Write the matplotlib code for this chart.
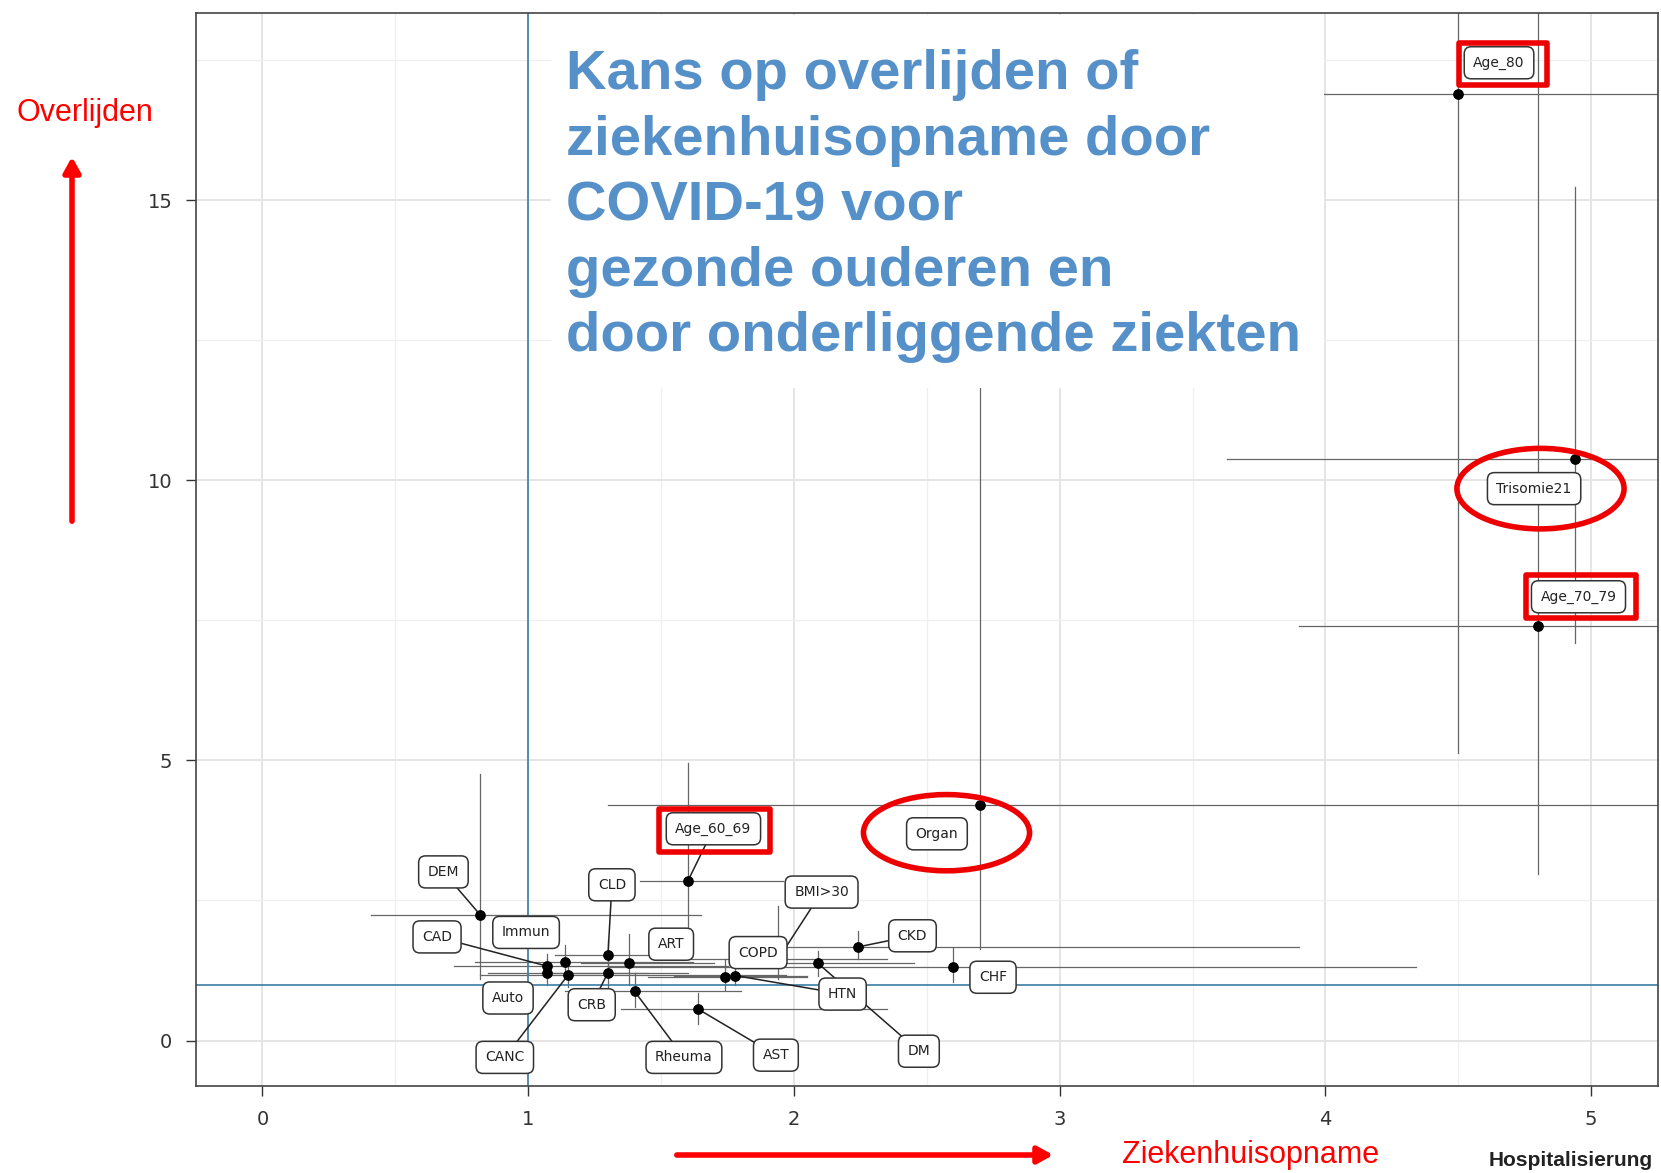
import matplotlib
matplotlib.use("Agg")
import matplotlib.pyplot as plt
from matplotlib.patches import Rectangle, Ellipse
from matplotlib.ticker import MultipleLocator

# risicofactoren: ziekenhuisopname (x) en overlijden (y), met betrouwbaarheidsintervallen
factoren = ["Age_80", "Trisomie21", "Age_70_79", "Organ", "Age_60_69", "DEM", "CAD",
            "Immun", "Auto", "CANC", "CLD", "CRB", "ART", "Rheuma", "AST", "COPD",
            "HTN", "BMI>30", "DM", "CKD", "CHF"]
hosp = [4.50, 4.94, 4.80, 2.70, 1.60, 0.82, 1.07, 1.14, 1.07, 1.15, 1.30, 1.30, 1.38,
        1.40, 1.64, 1.74, 1.78, 1.94, 2.09, 2.24, 2.60]
hosp_lo = [3.20, 3.63, 3.90, 1.30, 1.42, 0.41, 0.72, 0.80, 0.85, 0.82, 1.10, 1.05, 1.20,
           1.14, 1.35, 1.45, 1.55, 1.60, 1.80, 1.90, 1.30]
hosp_hi = [6.50, 6.50, 6.50, 6.50, 1.96, 1.65, 1.75, 1.62, 1.45, 1.97, 1.55, 1.60, 1.70,
           1.80, 2.35, 2.05, 2.05, 2.35, 2.45, 3.90, 4.34]
dood = [16.9, 10.38, 7.39, 4.20, 2.84, 2.24, 1.33, 1.40, 1.20, 1.17, 1.52, 1.21, 1.38,
        0.88, 0.56, 1.14, 1.16, 1.45, 1.38, 1.67, 1.31]
dood_lo = [5.14, 7.09, 2.97, 1.64, 2.02, 1.10, 1.10, 1.20, 1.00, 0.95, 1.25, 0.90, 1.00,
           0.60, 0.30, 0.90, 1.00, 1.10, 1.15, 1.45, 1.05]
dood_hi = [20.0, 15.24, 20.0, 13.0, 4.95, 4.76, 1.55, 1.70, 1.45, 1.40, 1.80, 1.55, 1.90,
           1.20, 0.85, 1.45, 1.75, 2.40, 1.60, 1.95, 1.65]

x_ticks = [0, 1, 2, 3, 4, 5]
y_ticks = [0, 5, 10, 15]

titel = ("Kans op overlijden of\nziekenhuisopname door\nCOVID-19 voor\n"
         "gezonde ouderen en\ndoor onderliggende ziekten")

# positie van de labels (zoals ggrepel ze plaatste)
label_pos = {
    "Age_80": (4.653, 17.45), "Trisomie21": (4.785, 9.85), "Age_70_79": (4.952, 7.92),
    "Organ": (2.538, 3.69), "Age_60_69": (1.697, 3.78), "DEM": (0.681, 3.01),
    "CAD": (0.657, 1.85), "Immun": (0.992, 1.93), "CLD": (1.315, 2.78),
    "BMI>30": (2.104, 2.65), "ART": (1.538, 1.72), "COPD": (1.865, 1.57),
    "CKD": (2.446, 1.87), "CHF": (2.749, 1.13), "HTN": (2.183, 0.83),
    "Auto": (0.924, 0.76), "CRB": (1.239, 0.64), "CANC": (0.912, -0.30),
    "Rheuma": (1.586, -0.30), "AST": (1.932, -0.26), "DM": (2.470, -0.19),
}
met_lijn = ["DEM", "CAD", "CLD", "Age_60_69", "BMI>30", "CKD", "HTN", "DM",
            "CANC", "Rheuma", "AST", "CRB"]

fig = plt.figure(figsize=(16.61, 11.73), dpi=100)
ax = fig.add_axes([0.118, 0.0742, 0.880, 0.9148])
ax.set_xlim(-0.25, 5.25)
ax.set_ylim(-0.81, 18.34)

ax.xaxis.set_major_locator(MultipleLocator(1))
ax.xaxis.set_minor_locator(MultipleLocator(0.5))
ax.yaxis.set_major_locator(MultipleLocator(5))
ax.yaxis.set_minor_locator(MultipleLocator(2.5))
ax.grid(which="major", color="#e3e3e3", lw=1.3, zorder=0)
ax.grid(which="minor", color="#efefef", lw=0.9, zorder=0)
ax.set_axisbelow(True)
ax.set_xticks(x_ticks)
ax.set_yticks(y_ticks)
ax.tick_params(which="minor", length=0)
ax.tick_params(which="major", length=7, width=1, color="#333333", labelsize=14, pad=10)
for lab in ax.get_xticklabels() + ax.get_yticklabels():
    lab.set_color("#333333")
for s in ax.spines.values():
    s.set_color("#444444")
    s.set_linewidth(1.2)

ax.axhline(1, color="#3b7ca3", lw=1.2, zorder=2.5)
ax.axvline(1, color="#3b7ca3", lw=1.2, zorder=2.5)

for i in range(len(factoren)):
    ax.plot([hosp_lo[i], hosp_hi[i]], [dood[i], dood[i]], color="#666666", lw=0.9, zorder=2)
    ax.plot([hosp[i], hosp[i]], [dood_lo[i], dood_hi[i]], color="#666666", lw=0.9, zorder=2)
ax.scatter(hosp, dood, s=45, color="black", zorder=3)

for i, naam in enumerate(factoren):
    lx, ly = label_pos[naam]
    if naam in met_lijn:
        ax.plot([hosp[i], lx], [dood[i], ly], color="#222222", lw=1.1, zorder=2.8)
    ax.text(lx, ly, naam, ha="center", va="center", fontsize=10, color="#222222",
            zorder=5,
            bbox=dict(boxstyle="round,pad=0.65,rounding_size=0.5", fc="white",
                      ec="#333333", lw=1.1))

# rode markeringen
for (x0, x1, y0, y1) in [(4.502, 4.833, 17.05, 17.81), (4.753, 5.167, 7.54, 8.30),
                         (1.494, 1.908, 3.36, 4.14)]:
    ax.add_patch(Rectangle((x0, y0), x1 - x0, y1 - y0, fill=False, ec="#ee0000", lw=4,
                           joinstyle="round", zorder=6))
for (cx, cy, w, h) in [(4.809, 9.85, 0.629, 1.437), (2.574, 3.71, 0.625, 1.36)]:
    ax.add_patch(Ellipse((cx, cy), w, h, fill=False, ec="#ee0000", lw=4, zorder=6))

# titel in wit vlak
ax.add_patch(Rectangle((0.243, 0.650), 0.5285, 0.348, transform=ax.transAxes,
                       fc="white", ec="none", zorder=4))
fig.text(566 / 1661, 1 - 49 / 1173, titel, ha="left", va="top", fontsize=40.5,
         fontweight="bold", color="#5590c8", family="Liberation Sans", linespacing=1.34)

# rode pijlen en teksten
ax.annotate("", xy=(72, 1019), xytext=(72, 649), xycoords="figure pixels",
            textcoords="figure pixels",
            arrowprops=dict(arrowstyle="-|>,head_width=0.5,head_length=0.9",
                            color="#ff0000", lw=4))
ax.annotate("", xy=(1056, 18), xytext=(674, 18), xycoords="figure pixels",
            textcoords="figure pixels",
            arrowprops=dict(arrowstyle="-|>,head_width=0.5,head_length=0.9",
                            color="#ff0000", lw=4))
fig.text(85 / 1661, 1060 / 1173, "Overlijden", ha="center", va="center", fontsize=22,
         color="#ff0000", family="Liberation Sans")
fig.text(1251 / 1661, 18 / 1173, "Ziekenhuisopname", ha="center", va="center",
         fontsize=22, color="#ff0000", family="Liberation Sans")
fig.text(1571 / 1661, 13 / 1173, "Hospitalisierung", ha="center", va="center",
         fontsize=15, fontweight="bold", color="#222222", family="Liberation Sans")

fig.savefig("out.png", dpi=100)
